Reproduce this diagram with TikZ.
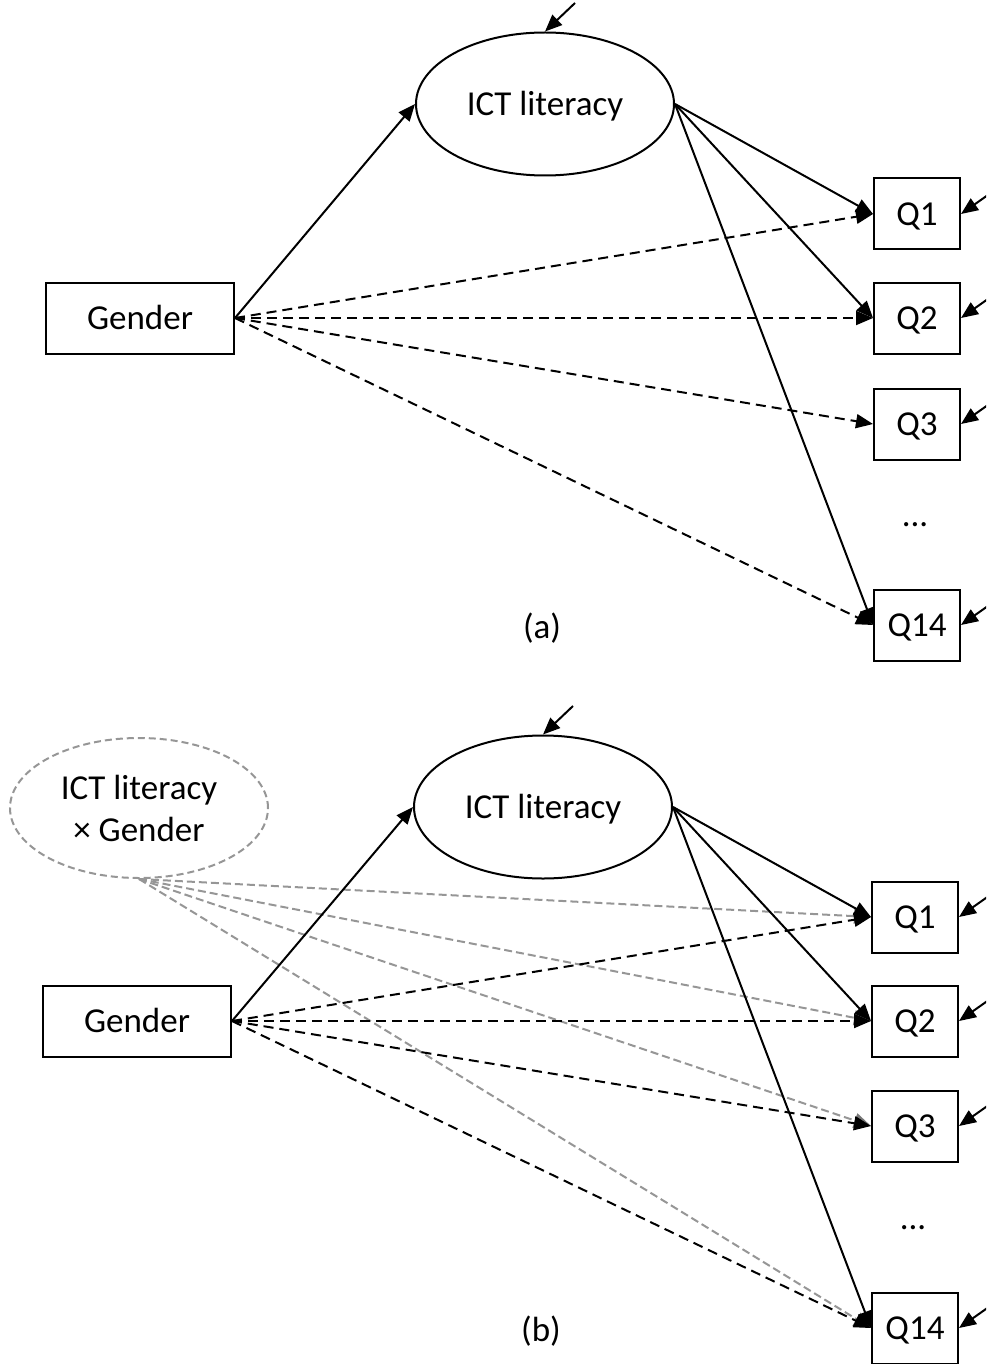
\documentclass[tikz,border=0pt]{standalone}
\usepackage{fontspec}
\setmainfont{Carlito}
\usetikzlibrary{shapes.geometric,arrows.meta,calc}
\definecolor{lgray}{RGB}{150,150,150}
\definecolor{agray}{RGB}{120,120,120}
\tikzset{
  lbl/.style={font=\fontsize{35}{42}\selectfont},
  btext/.style={text height=22.6pt, text depth=0pt},
  qbox/.style={draw, line width=2pt, minimum width=86pt, minimum height=71pt, inner sep=0pt, lbl, btext},
  gbox/.style={draw, line width=2pt, minimum width=188pt, minimum height=71pt, inner sep=0pt, lbl, btext},
  latent/.style={draw, ellipse, line width=2pt, minimum width=258pt, minimum height=143pt, inner sep=0pt, lbl, btext},
  inter/.style={draw=lgray, ellipse, dash pattern=on 7pt off 4pt, line width=2pt, minimum width=258pt, minimum height=140pt, inner sep=0pt, lbl, align=center},
  arr/.style={line width=2pt, -{Triangle[length=17pt,width=14pt]}},
  darr/.style={arr, dash pattern=on 10pt off 6pt},
  garr/.style={line width=2pt, draw=lgray, dash pattern=on 8pt off 4pt, -{Triangle[length=17pt,width=15pt,fill=agray,color=agray]}},
}
\begin{document}
\begin{tikzpicture}[x=1pt,y=-1pt]
\clip (0,0) rectangle (986,1364);
% ---------- panel (a) ----------
\node[latent] (ictA) at (545,104) {ICT literacy};
\node[gbox] (genA) at (140,318) {Gender};
\node[qbox] (q1A) at (917,214) {Q1};
\node[qbox] (q2A) at (917,318) {Q2};
\node[qbox] (q3A) at (917,424) {Q3};
\node[lbl, btext] (dotsA) at (915,515) {...};
\node[qbox] (q14A) at (917,625) {Q14};
\node[lbl, btext] (capA) at (542,627) {(a)};
\coordinate (eIctA) at (575,3);
\draw[arr] (eIctA) -- (ictA.north);
\foreach \q in {q1A,q2A,q3A,q14A}{
  \coordinate (e\q) at ($(\q.east)+(34,-24)$);
  \draw[arr] (e\q) -- (\q.east);
}
\draw[arr] (genA.east) -- (ictA.west);
\foreach \q in {q1A,q2A,q14A}{ \draw[arr] (ictA.east) -- (\q.west); }
\foreach \q in {q1A,q2A,q3A,q14A}{ \draw[darr] (genA.east) -- (\q.west); }
% ---------- panel (b) ----------
\node[latent] (ictB) at (543,807) {ICT literacy};
\node[inter] (intB) at (139,808) {ICT literacy\\× Gender};
\node[gbox] (genB) at (137,1021) {Gender};
\node[qbox] (q1B) at (915,917) {Q1};
\node[qbox] (q2B) at (915,1021) {Q2};
\node[qbox] (q3B) at (915,1126) {Q3};
\node[lbl, btext] (dotsB) at (913,1218) {...};
\node[qbox] (q14B) at (915,1328) {Q14};
\node[lbl, btext] (capB) at (541,1330) {(b)};
\coordinate (eIctB) at (573,706);
\draw[arr] (eIctB) -- (ictB.north);
\foreach \q in {q1B,q2B,q3B,q14B}{
  \coordinate (e\q) at ($(\q.east)+(34,-24)$);
  \draw[arr] (e\q) -- (\q.east);
}
\foreach \q in {q1B,q2B,q3B,q14B}{ \draw[garr] (intB.south) -- (\q.west); }
\draw[arr] (genB.east) -- (ictB.west);
\foreach \q in {q1B,q2B,q14B}{ \draw[arr] (ictB.east) -- (\q.west); }
\foreach \q in {q1B,q2B,q3B,q14B}{ \draw[darr] (genB.east) -- (\q.west); }
\end{tikzpicture}
\end{document}
